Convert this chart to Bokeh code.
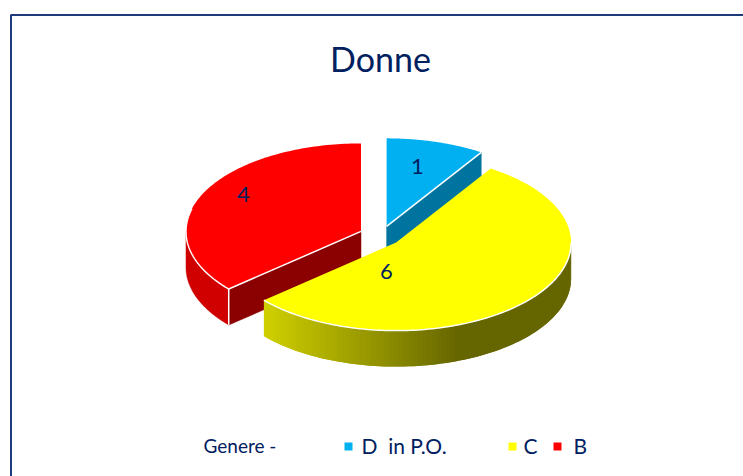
import numpy as np
from bokeh.plotting import figure
from bokeh.models import Range1d
from bokeh.embed import file_html
from bokeh.resources import INLINE
from bokeh.core.properties import value

title = "Donne"
categories = ["D\u00a0\u00a0in P.O.", "C", "B"]
values = [1, 6, 4]
top_colors = ["#00B0F0", "#FFFF00", "#FF0000"]
cut_colors = ["#00749E", "#A8A800", "#8B0000"]
legend_prefix = "Genere -"
NAVY = "#002060"

# pie geometry, in page pixels
CX, CY, RX, RY, DEPTH = 380.5, 235.5, 175.0, 88.0, 36.0
explode = [20.0, 20.0, 22.0]
label_xy = [(417, 166), (386, 271), (243, 194)]

p = figure(width=743, height=476, output_backend="svg", toolbar_location=None,
           x_range=Range1d(0, 743), y_range=Range1d(476, 0),
           min_border=0, outline_line_color=None, background_fill_color="white")
p.axis.visible = False
p.grid.visible = False

# frame: left and top edges only
p.line([10.5, 10.5, 743], [476, 14.5, 14.5], line_color="#1F3A7A", line_width=2)

def arc(cx, cy, a0, a1, n=120):
    t = np.radians(np.linspace(a0, a1, n))
    return cx + RX * np.sin(t), cy - RY * np.cos(t)

total = sum(values)
edges = np.cumsum([0] + values) * 360.0 / total
slices = []
for i in range(len(values)):
    a0, a1 = edges[i], edges[i + 1]
    mid = np.radians((a0 + a1) / 2)
    cx = CX + explode[i] * np.sin(mid)
    cy = CY - explode[i] * np.cos(mid) * RY / RX
    slices.append((a0, a1, cx, cy))

def pt(s, a):
    x, y = arc(s[2], s[3], a, a, 1)
    return float(x[0]), float(y[0])

# ---- B (red): drawn first, at the back
s = slices[2]
ex, ey = pt(s, s[0])
x, y = arc(s[2], s[3], s[0], 270)
p.patch(list(x) + list(x[::-1]), list(y) + list(y[::-1] + DEPTH), fill_color="#D00000", line_color="#D00000", line_width=0.5)
p.patch([s[2], ex, ex, s[2]], [s[3], ey, ey + DEPTH, s[3] + DEPTH], fill_color=cut_colors[2], line_color=cut_colors[2], line_width=0.5)
x, y = arc(s[2], s[3], s[0], s[1])
p.patch([s[2]] + list(x), [s[3]] + list(y), fill_color=top_colors[2], line_color=None)
x, y = arc(s[2], s[3], s[0], 285)
p.line(x, y, line_color="white", line_width=1.5)
p.line([s[2], ex], [s[3], ey], line_color="white", line_width=1.5)
p.line([ex, ex], [ey, ey + DEPTH], line_color="white", line_width=1.5)

# ---- D (blue)
s = slices[0]
ex, ey = pt(s, s[1])
p.patch([s[2], ex, ex, s[2]], [s[3], ey, ey + DEPTH, s[3] + DEPTH], fill_color=cut_colors[0], line_color=cut_colors[0], line_width=0.5)
x, y = arc(s[2], s[3], s[0], s[1])
p.patch([s[2]] + list(x), [s[3]] + list(y), fill_color=top_colors[0], line_color=None)
p.line([s[2], ex], [s[3], ey], line_color="white", line_width=1.5)

# ---- C (yellow)
s = slices[1]
x, y = arc(s[2], s[3], 90, s[1], 90)
x = x[::-1]; y = y[::-1]
xl, xr = x[0], x[0] + (x[-1] - x[0]) * 0.63
xs, ys = [], []
colors = []
for j in range(len(x) - 1):
    k = min(j + 2, len(x) - 1)
    xs.append(list(x[j:k + 1]) + list(x[j:k + 1][::-1]))
    ys.append(list(y[j:k + 1]) + list(y[j:k + 1][::-1] + DEPTH))
    f = min(max(((x[j] + x[j + 1]) / 2 - xl) / (xr - xl), 0), 1)
    c = int(round(208 + (102 - 208) * f))
    colors.append(f"#{c:02x}{c:02x}00")
p.patches(xs, ys, fill_color=colors, line_color=None)
x, y = arc(s[2], s[3], s[0], s[1])
p.patch([s[2]] + list(x), [s[3]] + list(y), fill_color=top_colors[1], line_color=None)
x2, y2 = arc(s[2], s[3], 90, s[1])
p.line(x2, y2, line_color="white", line_width=1.5)

# ---- texts
FONT = value("Lato")
p.text([380], [58], text=[title], text_font=FONT, text_font_size="34px", text_color=NAVY,
       text_align="center", text_baseline="middle")
p.text([q[0] for q in label_xy], [q[1] for q in label_xy], text=[str(v) for v in values],
       text_font=FONT, text_font_size="22px", text_color=NAVY, text_align="center", text_baseline="middle")

LEG_Y = 445
p.text([203], [LEG_Y], text=[legend_prefix], text_font=FONT, text_font_size="19px", text_color=NAVY,
       text_align="left", text_baseline="middle")
p.scatter([348, 512, 557], [LEG_Y + 1] * 3, marker="square", size=8, fill_color=top_colors, line_color=None)
p.text([361, 523, 573], [LEG_Y] * 3, text=categories, text_font=FONT, text_font_size="21px", text_color=NAVY,
       text_align="left", text_baseline="middle")

open("out.html", "w").write(file_html(p, INLINE))
